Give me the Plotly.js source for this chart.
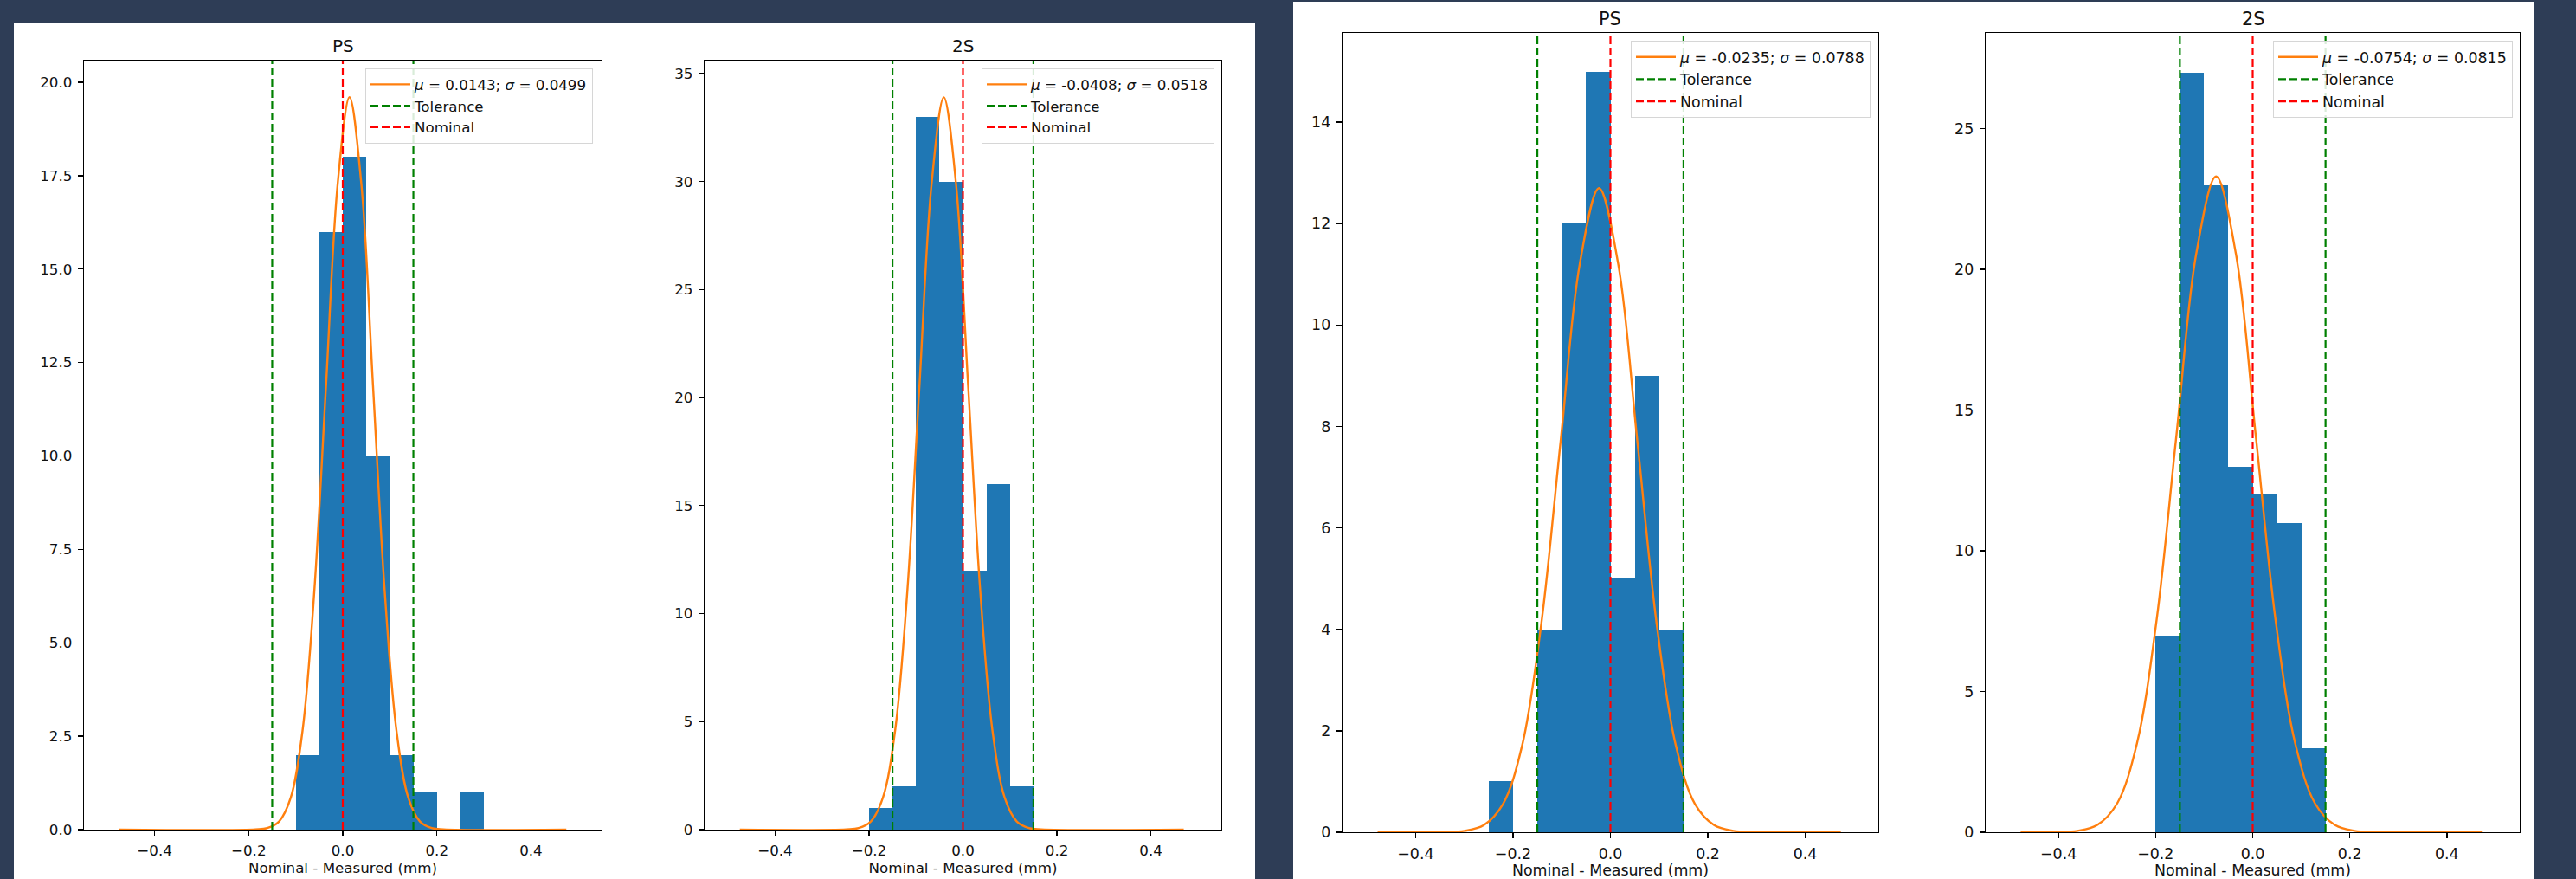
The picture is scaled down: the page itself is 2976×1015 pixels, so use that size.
<!DOCTYPE html>
<html><head><meta charset="utf-8">
<script src="https://cdn.plot.ly/plotly-3.0.1.min.js"></script>
<style>html,body{margin:0;padding:0;background:#2e3d56;} #chart{width:2976px;height:1015px;}</style>
</head><body><div id="chart"></div>
<script>
// ---------- data ----------
const panelTitles = ['PS', '2S', 'PS', '2S'];
const xLabel = 'Nominal - Measured (mm)';
const binWidth = 0.05;

const edgesA = [-0.10, -0.05, 0.00, 0.05, 0.10, 0.15, 0.20, 0.25];
const countsA = [2, 16, 18, 10, 2, 1, 0, 1];
const edgesB = [-0.20, -0.15, -0.10, -0.05, 0.00, 0.05, 0.10];
const countsB = [1, 2, 33, 30, 12, 16, 2];
const edgesC = [-0.25, -0.20, -0.15, -0.10, -0.05, 0.00, 0.05, 0.10];
const countsC = [1, 0, 4, 12, 15, 5, 9, 4];
const edgesD = [-0.20, -0.15, -0.10, -0.05, 0.00, 0.05, 0.10];
const countsD = [7, 27, 23, 13, 12, 11, 3];

const mu = [0.0143, -0.0408, -0.0235, -0.0754];
const sigma = [0.0499, 0.0518, 0.0788, 0.0815];

const fitXA = [-0.475, -0.1853, -0.1604, -0.1354, -0.1105, -0.0855, -0.0606, -0.0356, -0.0107, 0.0143, 0.0393, 0.0642, 0.0892, 0.1141, 0.1391, 0.1640, 0.1890, 0.2139, 0.475];
const fitYA = [0, 0.006, 0.043, 0.218, 0.860, 2.652, 6.364, 11.887, 17.297, 19.6, 17.297, 11.887, 6.364, 2.652, 0.860, 0.218, 0.043, 0.006, 0];
const fitXB = [-0.475, -0.2480, -0.2221, -0.1962, -0.1703, -0.1444, -0.1185, -0.0926, -0.0667, -0.0408, -0.0149, 0.0110, 0.0369, 0.0628, 0.0887, 0.1146, 0.1405, 0.1664, 0.470];
const fitYB = [0, 0.011, 0.074, 0.376, 1.489, 4.587, 11.007, 20.56, 29.92, 33.9, 29.92, 20.56, 11.007, 4.587, 1.489, 0.376, 0.074, 0.011, 0];
const fitXC = [-0.478, -0.3387, -0.2993, -0.2599, -0.2205, -0.1811, -0.1417, -0.1023, -0.0629, -0.0235, 0.0159, 0.0553, 0.0947, 0.1341, 0.1735, 0.2129, 0.2523, 0.2917, 0.473];
const fitYC = [0, 0.004, 0.028, 0.141, 0.558, 1.718, 4.124, 7.703, 11.208, 12.7, 11.208, 7.703, 4.124, 1.718, 0.558, 0.141, 0.028, 0.004, 0];
const fitXD = [-0.478, -0.4014, -0.3607, -0.3199, -0.2792, -0.2384, -0.1977, -0.1569, -0.1162, -0.0754, -0.0347, 0.0061, 0.0469, 0.0876, 0.1284, 0.1691, 0.2099, 0.2506, 0.472];
const fitYD = [0, 0.008, 0.051, 0.259, 1.023, 3.152, 7.566, 14.13, 20.56, 23.3, 20.56, 14.13, 7.566, 3.152, 1.023, 0.259, 0.051, 0.008, 0];

const tolerance = [-0.15, 0.15];
const nominal = [0];

const xTickVals = [-0.4, -0.2, 0, 0.2, 0.4];
const xTickText = ['\u22120.4', '\u22120.2', '0.0', '0.2', '0.4'];
const yTicksA = [0, 2.5, 5, 7.5, 10, 12.5, 15, 17.5, 20];
const yTextA = ['0.0', '2.5', '5.0', '7.5', '10.0', '12.5', '15.0', '17.5', '20.0'];
const yTicksB = [0, 5, 10, 15, 20, 25, 30, 35];
const yTicksC = [0, 2, 4, 6, 8, 10, 12, 14];
const yTicksD = [0, 5, 10, 15, 20, 25];

// ---------- styling / geometry ----------
const W = 2976, H = 1015;
const px = v => v / W;
const py = v => 1 - v / H;
const FONT = 'DejaVu Sans, sans-serif';

const panels = [
  {edges: edgesA, counts: countsA, fx: fitXA, fy: fitYA, yTicks: yTicksA, yText: yTextA, ymax: 20.58,
   box: [97, 695, 70, 958], fs: 16.7, tfs: 20, titleY: 53, leg: [685, 79]},
  {edges: edgesB, counts: countsB, fx: fitXB, fy: fitYB, yTicks: yTicksB, yText: yTicksB.map(String), ymax: 35.6,
   box: [814, 1411, 70, 958], fs: 16.7, tfs: 20, titleY: 53, leg: [1403, 79]},
  {edges: edgesC, counts: countsC, fx: fitXC, fy: fitYC, yTicks: yTicksC, yText: yTicksC.map(String), ymax: 15.76,
   box: [1551, 2170, 38, 961], fs: 17.4, tfs: 20.8, titleY: 22, leg: [2161, 47]},
  {edges: edgesD, counts: countsD, fx: fitXD, fy: fitYD, yTicks: yTicksD, yText: yTicksD.map(String), ymax: 28.4,
   box: [2294, 2911, 38, 961], fs: 17.4, tfs: 20.8, titleY: 22, leg: [2903, 47]}
];

const traces = [];
const layout = {
  width: W, height: H, autosize: false,
  margin: {l: 0, r: 0, t: 0, b: 0},
  paper_bgcolor: '#2e3d56', plot_bgcolor: '#ffffff',
  font: {family: FONT, color: '#111'},
  showlegend: true,
  bargap: 0,
  annotations: [],
  shapes: [
    {type: 'rect', xref: 'paper', yref: 'paper', x0: px(16), x1: px(1450), y0: 0, y1: py(27),
     fillcolor: '#ffffff', line: {width: 0}, layer: 'below'},
    {type: 'rect', xref: 'paper', yref: 'paper', x0: px(1494), x1: px(2927), y0: 0, y1: py(2),
     fillcolor: '#ffffff', line: {width: 0}, layer: 'below'}
  ]
};

panels.forEach((p, i) => {
  const n = i + 1;
  const xa = 'x' + (n === 1 ? '' : n), ya = 'y' + (n === 1 ? '' : n);
  const legName = 'legend' + (n === 1 ? '' : n);
  traces.push({type: 'bar', x: p.edges, y: p.counts, width: p.edges.map(() => binWidth), offset: 0,
    marker: {color: '#1f77b4', line: {width: 0}}, xaxis: xa, yaxis: ya, showlegend: false, hoverinfo: 'skip'});
  traces.push({type: 'scatter', mode: 'lines', x: p.fx, y: p.fy, xaxis: xa, yaxis: ya, legend: legName,
    name: '<i>\u03bc</i> = ' + mu[i].toFixed(4) + '; <i>\u03c3</i> = ' + sigma[i].toFixed(4),
    line: {color: '#ff7f0e', width: 2.4, shape: 'spline', smoothing: 1}});
  traces.push({type: 'scatter', mode: 'lines', xaxis: xa, yaxis: ya, legend: legName, name: 'Tolerance',
    x: [tolerance[0], tolerance[0], null, tolerance[1], tolerance[1]],
    y: [0, p.ymax, null, 0, p.ymax],
    line: {color: '#008000', width: 2.2, dash: '9px,4px'}});
  traces.push({type: 'scatter', mode: 'lines', xaxis: xa, yaxis: ya, legend: legName, name: 'Nominal',
    x: [nominal[0], nominal[0]], y: [0, p.ymax],
    line: {color: '#ff0000', width: 2.2, dash: '9px,4px'}});

  const [l, r, t, b] = p.box;
  const axCommon = {showline: true, mirror: true, linecolor: '#000', linewidth: 1.3, showgrid: false,
    zeroline: false, ticks: 'outside', ticklen: 6, tickwidth: 1.3, tickcolor: '#000',
    tickfont: {family: FONT, size: p.fs, color: '#111'}, fixedrange: true};
  layout['xaxis' + (n === 1 ? '' : n)] = Object.assign({}, axCommon, {
    domain: [px(l), px(r)], anchor: ya, range: [-0.55, 0.55],
    tickmode: 'array', tickvals: xTickVals, ticktext: xTickText, ticklabelstandoff: 3,
    title: {text: xLabel, font: {family: FONT, size: p.fs, color: '#111'}, standoff: 4}});
  layout['yaxis' + (n === 1 ? '' : n)] = Object.assign({}, axCommon, {
    domain: [py(b), py(t)], anchor: xa, range: [0, p.ymax],
    tickmode: 'array', tickvals: p.yTicks, ticktext: p.yText, ticklabelstandoff: 3});
  layout[legName] = {x: px(p.leg[0]), y: py(p.leg[1]), xanchor: 'right', yanchor: 'top',
    bgcolor: 'rgba(255,255,255,0.85)', bordercolor: '#d6d6d6', borderwidth: 1, itemwidth: 46,
    font: {family: FONT, size: p.fs, color: '#111'}};
  layout.annotations.push({text: panelTitles[i], xref: 'paper', yref: 'paper',
    x: px((l + r) / 2), y: py(p.titleY), xanchor: 'center', yanchor: 'middle', showarrow: false,
    font: {family: FONT, size: p.tfs, color: '#111'}});
});

Plotly.newPlot('chart', traces, layout, {staticPlot: true, displayModeBar: false});
</script>
</body></html>
